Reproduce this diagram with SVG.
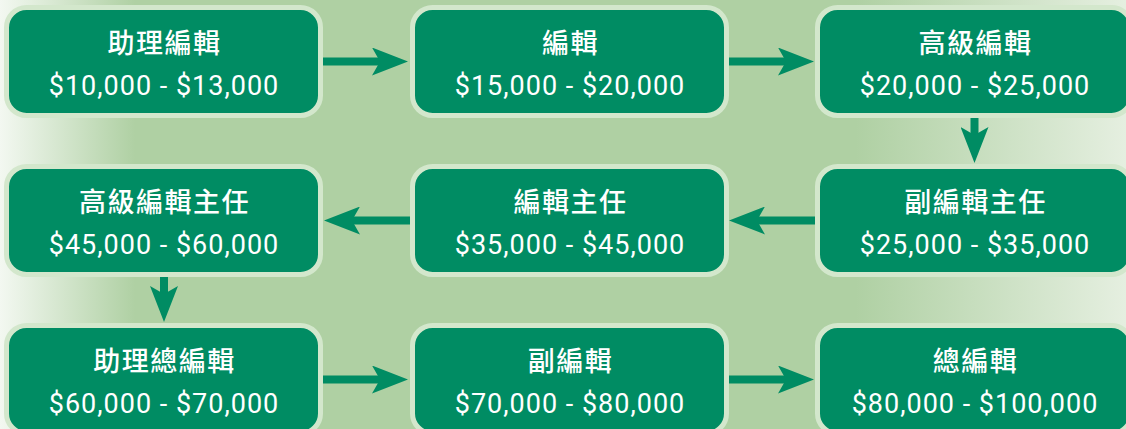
<svg xmlns="http://www.w3.org/2000/svg" width="1126" height="429" viewBox="0 0 1126 429">
<defs>
<linearGradient id="bg" x1="0" y1="0" x2="1126" y2="0" gradientUnits="userSpaceOnUse">
<stop offset="0" stop-color="#f3f8f1"/>
<stop offset="0.12" stop-color="#afd0a3"/>
<stop offset="0.76" stop-color="#afd0a3"/>
<stop offset="1" stop-color="#e5efe0"/>
</linearGradient>
<marker id="ah" markerUnits="userSpaceOnUse" markerWidth="36" markerHeight="28" refX="8" refY="14" orient="auto" viewBox="0 0 36 28">
<path d="M0,0 L36,14 L0,28 L8,14 Z" fill="#008c63"/>
</marker>
</defs>
<style>
.box{fill:#008c63;stroke:#d3e7cc;stroke-width:5}
.t{font-family:Roboto,"Noto Sans CJK TC","Noto Sans CJK SC",sans-serif;font-size:27px;font-weight:500;letter-spacing:1.5px;fill:#ffffff;text-anchor:middle}
.s{font-family:Roboto,"Noto Sans CJK TC",sans-serif;font-size:27px;font-weight:400;letter-spacing:1px;fill:#ffffff;text-anchor:middle}
.c{stroke:#008c63;stroke-width:8;fill:none;marker-end:url(#ah)}
</style>
<rect x="0" y="0" width="1126" height="429" fill="url(#bg)"/>
<g id="connectors">
<line class="c" x1="323" y1="61.5" x2="380" y2="61.5"/>
<line class="c" x1="729" y1="61.5" x2="786" y2="61.5"/>
<line class="c" x1="974.5" y1="118" x2="974.5" y2="135"/>
<line class="c" x1="815" y1="220.5" x2="757" y2="220.5"/>
<line class="c" x1="410" y1="220.5" x2="352" y2="220.5"/>
<line class="c" x1="164" y1="277" x2="164" y2="294"/>
<line class="c" x1="323" y1="379.5" x2="380" y2="379.5"/>
<line class="c" x1="729" y1="379.5" x2="786" y2="379.5"/>
</g>
<g id="n1"><rect class="box" x="6.5" y="7.5" width="314" height="108" rx="20"/><text class="t" x="164.5" y="53">助理編輯</text><text class="s" x="164" y="95">$10,000 - $13,000</text></g>
<g id="n2"><rect class="box" x="412.5" y="7.5" width="314" height="108" rx="20"/><text class="t" x="570.5" y="53">編輯</text><text class="s" x="570" y="95">$15,000 - $20,000</text></g>
<g id="n3"><rect class="box" x="817.5" y="7.5" width="314" height="108" rx="20"/><text class="t" x="975.5" y="53">高級編輯</text><text class="s" x="975" y="95">$20,000 - $25,000</text></g>
<g id="n4"><rect class="box" x="817.5" y="166.5" width="314" height="108" rx="20"/><text class="t" x="975.5" y="212">副編輯主任</text><text class="s" x="975" y="254">$25,000 - $35,000</text></g>
<g id="n5"><rect class="box" x="412.5" y="166.5" width="314" height="108" rx="20"/><text class="t" x="570.5" y="212">編輯主任</text><text class="s" x="570" y="254">$35,000 - $45,000</text></g>
<g id="n6"><rect class="box" x="6.5" y="166.5" width="314" height="108" rx="20"/><text class="t" x="164.5" y="212">高級編輯主任</text><text class="s" x="164" y="254">$45,000 - $60,000</text></g>
<g id="n7"><rect class="box" x="6.5" y="325.5" width="314" height="108" rx="20"/><text class="t" x="164.5" y="371">助理總編輯</text><text class="s" x="164" y="413">$60,000 - $70,000</text></g>
<g id="n8"><rect class="box" x="412.5" y="325.5" width="314" height="108" rx="20"/><text class="t" x="570.5" y="371">副編輯</text><text class="s" x="570" y="413">$70,000 - $80,000</text></g>
<g id="n9"><rect class="box" x="817.5" y="325.5" width="314" height="108" rx="20"/><text class="t" x="975.5" y="371">總編輯</text><text class="s" x="975" y="413">$80,000 - $100,000</text></g>
</svg>
